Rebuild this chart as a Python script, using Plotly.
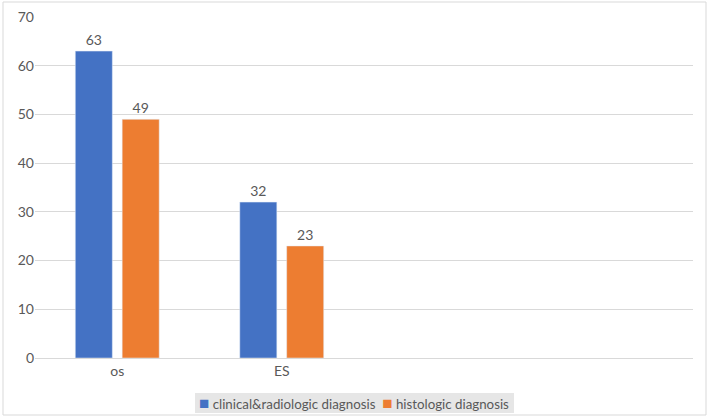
import plotly.graph_objects as go

categories = ["os", "ES", " ", "  "]
clinical = [63, 32, None, None]
histologic = [49, 23, None, None]
series_names = ["clinical&radiologic diagnosis", "histologic diagnosis"]
series_colors = ["#4472C4", "#ED7D31"]
y_ticks = [0, 10, 20, 30, 40, 50, 60, 70]

W, H = 708, 418
L, R, T, B = 35, 15, 17, 60
pw, ph = W - L - R, H - T - B

def px_x(x):
    return (x - L) / pw

def px_y(y):
    return (H - B - y) / ph

fig = go.Figure()
for name, vals, col in zip(series_names, [clinical, histologic], series_colors):
    fig.add_trace(go.Bar(x=categories, y=vals, name=name,
                         marker_color=col, text=vals, textposition="outside",
                         textfont=dict(color="#595959", size=14), cliponaxis=False))

fig.update_layout(
    width=W, height=H,
    margin=dict(l=L, r=R, t=T, b=B, autoexpand=False),
    paper_bgcolor="white", plot_bgcolor="white",
    font=dict(family="Lato, Carlito, sans-serif", color="#595959", size=14),
    barmode="group", bargap=0.43, bargroupgap=0.21,
    showlegend=False,
    xaxis=dict(type="category", categoryorder="array", categoryarray=categories,
               range=[-0.5, 3.5], showgrid=False, showline=True, linecolor="#d9d9d9",
               ticks="", automargin=False, tickfont=dict(size=14, color="#595959")),
    yaxis=dict(range=[0, 70], tickvals=y_ticks, showgrid=True, gridcolor="#d9d9d9",
               zeroline=False, showline=False, ticks="", automargin=False,
               tickfont=dict(size=14, color="#595959")),
)
# outer chart border
fig.add_shape(type="rect", xref="paper", yref="paper",
              x0=px_x(3), x1=px_x(706), y0=px_y(415), y1=px_y(2),
              line=dict(color="#d9d9d9", width=1), fillcolor="rgba(0,0,0,0)", layer="below")
# legend box
fig.add_shape(type="rect", xref="paper", yref="paper",
              x0=px_x(195), x1=px_x(514), y0=px_y(413), y1=px_y(393),
              line=dict(width=0), fillcolor="#e6e6e6", layer="below")
legend_text = "&nbsp;&nbsp;".join(
    f'<span style="color:{c};font-size:17px">■</span> {n}' for n, c in zip(series_names, series_colors))
fig.add_annotation(xref="paper", yref="paper", x=px_x(354), y=px_y(403),
                   xanchor="center", yanchor="middle", showarrow=False,
                   text=legend_text, font=dict(size=13.3, color="#595959"))
fig.write_html("out.html", config={"displayModeBar": False},
               post_script="document.body.style.margin='0';document.body.style.overflow='hidden';")
